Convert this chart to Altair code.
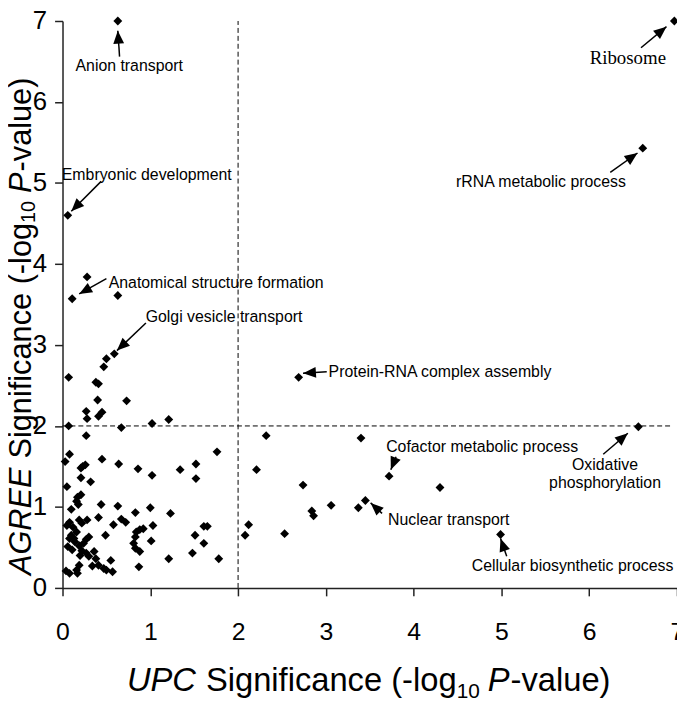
import math
import altair as alt
import pandas as pd

# ---------------- data ----------------
upc_sig = [0.63, 6.97, 6.61, 0.06, 0.28, 0.11, 0.63, 0.59, 0.50, 0.47,
           0.07, 0.38, 0.41, 0.40, 0.73, 0.27, 0.28, 0.45, 0.41, 0.07,
           0.67, 1.02, 1.21, 2.69, 6.56, 0.27, 0.08, 0.03, 0.45, 0.64,
           0.86, 1.02, 0.21, 0.26, 0.23, 0.21, 0.32, 0.05, 0.21, 0.17,
           0.16, 0.18, 0.10, 0.44, 0.63, 0.83, 1.00, 1.76, 1.52, 1.34,
           1.52, 2.21, 2.32, 1.23, 1.61, 1.65, 1.51, 1.61, 1.48, 1.21,
           1.78, 2.12, 2.08, 3.40, 2.74, 3.72, 4.30, 3.06, 2.84, 2.86,
           3.37, 3.45, 2.53, 4.99, 1.03, 0.41, 0.28, 0.19, 0.08, 0.05,
           0.67, 0.72, 0.58, 0.84, 0.88, 0.92, 0.83, 0.81, 1.01, 0.88,
           0.87, 0.49, 0.30, 0.27, 0.16, 0.10, 0.08, 0.13, 0.06, 0.19,
           0.22, 0.27, 0.30, 0.36, 0.38, 0.41, 0.47, 0.50, 0.57, 0.55,
           0.34, 0.19, 0.16, 0.17, 0.04, 0.08, 0.83, 0.22, 0.12, 0.24,
           0.14, 0.20, 0.11]
agree_sig = [7.00, 7.00, 5.43, 4.60, 3.84, 3.57, 3.61, 2.89, 2.83, 2.73,
             2.60, 2.54, 2.52, 2.32, 2.31, 2.18, 2.09, 2.17, 2.12, 2.00,
             1.98, 2.03, 2.08, 2.60, 1.99, 1.88, 1.65, 1.56, 1.59, 1.53,
             1.47, 1.39, 1.48, 1.52, 1.50, 1.36, 1.31, 1.25, 1.15, 1.12,
             1.07, 1.03, 0.97, 1.03, 1.01, 0.93, 0.99, 1.68, 1.53, 1.46,
             1.35, 1.46, 1.88, 0.92, 0.76, 0.76, 0.65, 0.55, 0.43, 0.36,
             0.36, 0.78, 0.65, 1.85, 1.27, 1.38, 1.24, 1.02, 0.95, 0.89,
             0.99, 1.08, 0.67, 0.66, 0.77, 0.87, 0.84, 0.84, 0.81, 0.77,
             0.85, 0.81, 0.78, 0.69, 0.72, 0.73, 0.63, 0.55, 0.58, 0.45,
             0.26, 0.65, 0.63, 0.60, 0.69, 0.65, 0.61, 0.61, 0.51, 0.52,
             0.46, 0.43, 0.39, 0.45, 0.36, 0.28, 0.24, 0.22, 0.20, 0.34,
             0.27, 0.28, 0.22, 0.18, 0.21, 0.18, 0.49, 0.80, 0.75, 0.55,
             0.57, 0.40, 0.47]

ann_labels = ["Anion transport", "Embryonic development", "Anatomical structure formation",
              "Golgi vesicle transport", "Protein-RNA complex assembly", "rRNA metabolic process",
              "Cofactor metabolic process", "Oxidative", "phosphorylation",
              "Nuclear transport", "Cellular biosynthetic process"]
ann_x = [0.76, 0.96, 1.75, 1.84, 4.30, 5.45, 4.78, 6.18, 6.18, 4.40, 5.81]
ann_y = [6.44, 5.10, 3.77, 3.35, 2.67, 5.01, 1.74, 1.52, 1.30, 0.84, 0.27]

serif_labels = ["Ribosome"]
serif_x = [6.44]
serif_y = [6.54]

# arrows: tail -> tip
arrow_x0 = [0.65, 6.59, 6.24, 0.44, 0.50, 0.95, 3.01, 3.80, 6.16, 3.64, 5.06]
arrow_y0 = [6.56, 6.67, 5.13, 5.02, 3.82, 3.27, 2.67, 1.62, 1.65, 0.92, 0.39]
arrow_x1 = [0.63, 6.88, 6.55, 0.10, 0.19, 0.62, 2.74, 3.74, 6.44, 3.51, 4.99]
arrow_y1 = [6.88, 6.93, 5.37, 4.65, 3.63, 2.93, 2.65, 1.46, 1.91, 1.05, 0.61]

threshold = 2
axis_ticks = [0, 1, 2, 3, 4, 5, 6, 7]

# ---------------- layout ----------------
W, H = 620, 572
XS, YS = W / 7.0, H / 7.0

xscale = alt.Scale(domain=[0, 7], nice=False, zero=False)
yscale = alt.Scale(domain=[0, 7], nice=False, zero=False)

xaxis = alt.Axis(values=axis_ticks, title=None, grid=False, tickSize=8, tickWidth=1.5,
                 tickColor="#222222", domainColor="#222222", domainWidth=1.5,
                 labelFont="Liberation Sans", labelFontSize=25, labelColor="black",
                 labelPadding=24, labelFlush=False, labelOverlap=False, format="d")
yaxis = alt.Axis(values=axis_ticks, title=None, grid=False, tickSize=8, tickWidth=1.5,
                 tickColor="#222222", domainColor="#222222", domainWidth=1.5,
                 labelFont="Liberation Sans", labelFontSize=26, labelColor="black",
                 labelPadding=8, labelFlush=False, labelOverlap=False, format="d")


def X(f="upc"):
    return alt.X(f + ":Q", scale=xscale, axis=xaxis)


def Y(f="agree"):
    return alt.Y(f + ":Q", scale=yscale, axis=yaxis)


pts = pd.DataFrame({"upc": upc_sig, "agree": agree_sig})
points = alt.Chart(pts).mark_point(shape="diamond", filled=True, size=80,
                                   color="black", opacity=1).encode(x=X(), y=Y())

vline = alt.Chart(pd.DataFrame({"upc": [threshold], "agree": [0], "agree2": [7]})).mark_rule(
    strokeDash=[5, 3], color="black", strokeWidth=1).encode(x=X(), y=Y(), y2="agree2:Q")
hline = alt.Chart(pd.DataFrame({"agree": [threshold], "upc": [0], "upc2": [6.95]})).mark_rule(
    strokeDash=[5, 3], color="black", strokeWidth=1).encode(y=Y(), x=X(), x2="upc2:Q")

angles = []
for a, b, c, d in zip(arrow_x0, arrow_y0, arrow_x1, arrow_y1):
    dx = (c - a) * XS
    dy = -(d - b) * YS
    angles.append(math.degrees(math.atan2(dx, -dy)) % 360)

arr = pd.DataFrame({"upc": arrow_x0, "agree": arrow_y0, "upc2": arrow_x1, "agree2": arrow_y1})
arrow_lines = alt.Chart(arr).mark_rule(color="black", strokeWidth=1.5).encode(
    x=X(), y=Y(), x2="upc2:Q", y2="agree2:Q")
heads = pd.DataFrame({"upc": arrow_x1, "agree": arrow_y1, "angle": angles})
arrow_heads = alt.Chart(heads).mark_point(shape="M0,0L0.42,1L-0.42,1Z", filled=True, size=676,
                                          color="black", opacity=1, strokeWidth=0).encode(
    x=X(), y=Y(), angle=alt.Angle("angle:Q", scale=None))

labels = alt.Chart(pd.DataFrame({"upc": ann_x, "agree": ann_y, "label": ann_labels})).mark_text(
    font="Liberation Sans", fontSize=16, color="black", align="center", baseline="middle").encode(
    x=X(), y=Y(), text="label:N")
serif = alt.Chart(pd.DataFrame({"upc": serif_x, "agree": serif_y, "label": serif_labels})).mark_text(
    font="Liberation Serif", fontSize=19, color="black", align="center", baseline="middle").encode(
    x=X(), y=Y(), text="label:N")

# ---------------- axis titles with italics and subscripts ----------------
ARIAL = {' ': 278, '(': 333, ')': 333, '-': 333, '0': 556, '1': 556, 'A': 667, 'C': 722,
         'E': 667, 'G': 778, 'P': 667, 'R': 722, 'S': 667, 'U': 722, 'a': 556, 'c': 500,
         'e': 556, 'f': 278, 'g': 556, 'i': 222, 'l': 222, 'n': 556, 'o': 556, 'u': 556,
         'v': 500}


def tw(s, fs):
    return sum(ARIAL.get(ch, 556) for ch in s) * fs / 1000.0


def piece(txt, fs, style, xv, yv, angle=0):
    return alt.Chart(pd.DataFrame({"t": [txt]})).mark_text(
        font="Liberation Sans", fontSize=fs, fontStyle=style, color="black",
        align="left", baseline="alphabetic", angle=angle).encode(
        x=alt.value(xv), y=alt.value(yv), text="t:N")


TOP = 10  # padding top (plot starts at page y = 8 + TOP)
FS, SUB = 33, 21
title_layers = []
# x title (baseline at page y ~694)
cx, by = 65.0, 694.0 - 8 - TOP
for txt, fs, style, shift, gap in [("UPC", FS, "italic", 0, 10), ("Significance (-log", FS, "normal", 0, 0),
                                   ("10", SUB, "normal", 7, 8), ("P", FS, "italic", 0, 1),
                                   ("-value)", FS, "normal", 0, 0)]:
    title_layers.append(piece(txt, fs, style, cx, by + shift))
    cx += tw(txt, fs) + gap

# y title (rotated), starts at page y ~577
FSY, SUBY = 31, 20
cy, bx = 577.0 - 8 - TOP, -32.0
for txt, fs, style, shift, gap in [("AGREE", FSY, "italic", 0, 9), ("Significance (-log", FSY, "normal", 0, 0),
                                   ("10", SUBY, "normal", 4, 8), ("P", FSY, "italic", 0, 1),
                                   ("-value)", FSY, "normal", 0, 0)]:
    title_layers.append(piece(txt, fs, style, bx + shift, cy, angle=270))
    cy -= tw(txt, fs) + gap

chart = alt.layer(vline, hline, arrow_lines, arrow_heads, points, labels, serif,
                  *title_layers).properties(
    width=W, height=H,
    autosize=alt.AutoSizeParams(type="none"),
    padding={"left": 55, "top": TOP, "right": 0, "bottom": 695 - TOP - H},
    background="white",
).configure_view(stroke=None)

chart.save("out.html", embed_options={"renderer": "svg", "actions": False})
